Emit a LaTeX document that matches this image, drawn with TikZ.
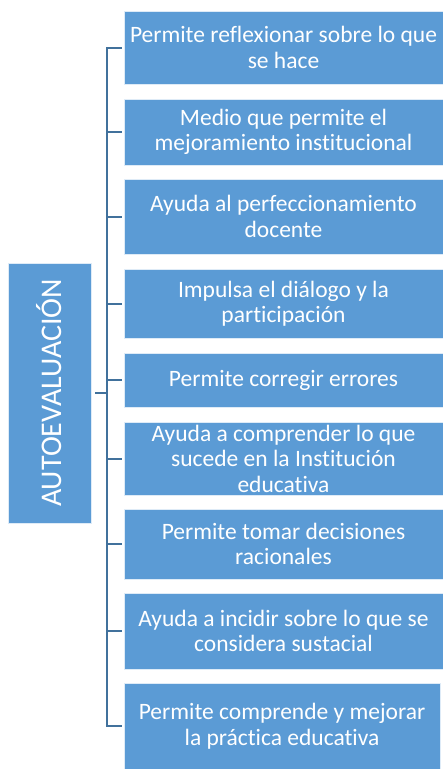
\documentclass[tikz,border=0pt]{standalone}
\usepackage{fontspec}
\setmainfont{Carlito}[Ligatures=NoCommon]
\definecolor{boxblue}{HTML}{5B9BD5}
\definecolor{linecol}{HTML}{41719C}
\tikzset{
  item/.style={draw=white!80!boxblue, line width=0.8pt, fill=boxblue, text=white, align=center,
    font=\fontsize{23.5}{25.5}\selectfont, inner sep=0pt},
  conn/.style={draw=linecol, line width=2pt},
}
\begin{document}
\begin{tikzpicture}[x=1pt,y=-1pt]
\useasboundingbox (0,0) rectangle (443,769);
% root
\node[item, minimum width=83pt, minimum height=260pt, font=\fontsize{30}{34}\selectfont] (root) at (49.5,393) {\rotatebox{90}{AUTOEVALUACIÓN}};
% items
\node[item, minimum width=319pt, minimum height=73pt] (b1) at (283.5,47.5) {Permite reflexionar sobre lo que\\se hace};
\node[item, minimum width=319pt, minimum height=66pt] (b2) at (283.5,132) {Medio que permite el\\mejoramiento institucional};
\node[item, minimum width=319pt, minimum height=75pt] (b3) at (283.5,216.5) {Ayuda al perfeccionamiento\\docente};
\node[item, minimum width=319pt, minimum height=69pt] (b4) at (283.5,303.5) {Impulsa el diálogo y la\\participación};
\node[item, minimum width=319pt, minimum height=54pt] (b5) at (283.5,380) {Permite corregir errores};
\node[item, minimum width=319pt, minimum height=73pt] (b6) at (283.5,458.5) {Ayuda a comprender lo que\\sucede en la Institución\\educativa};
\node[item, minimum width=319pt, minimum height=70pt] (b7) at (283.5,544) {Permite tomar decisiones\\racionales};
\node[item, minimum width=319pt, minimum height=76pt] (b8) at (283.5,631) {Ayuda a incidir sobre lo que se\\considera sustacial};
\node[item, minimum width=316pt, minimum height=86pt] (b9) at (282,726) {Permite comprende y mejorar\\la práctica educativa};
% connectors
\coordinate (spine) at (107,393);
\coordinate (rootout) at (95,393);
\draw[conn] (rootout) -- (spine);
\draw[conn] ([xshift=-2pt]b1.west) -| (spine) |- ([xshift=-2pt]b9.west);
\foreach \b in {b2,b3,b4,b5,b6,b7,b8}{
  \draw[conn] ([xshift=-2pt]\b.west) -- (\b.west -| spine);
}
\end{tikzpicture}
\end{document}
